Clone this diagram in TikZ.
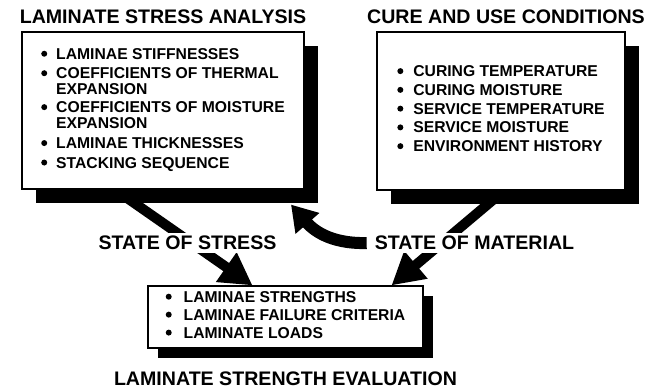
\documentclass[tikz,border=0pt]{standalone}
\usepackage{fontspec}
\setmainfont{Liberation Sans}
\usetikzlibrary{arrows.meta, positioning, shadows}

\pgfdeclarelayer{background}
\pgfsetlayers{background,main}

\newcommand{\bodyfont}{\fontsize{15.7}{15}\selectfont\bfseries}
\newcommand{\headfont}{\fontsize{19.6}{20}\selectfont\bfseries}
\newcommand{\bul}{\tikz[baseline=-5.6pt]\fill[black] (0,0) circle (3pt);}

\tikzset{
  listbox/.style={draw, line width=1.2pt, fill=white, inner sep=0pt, font=\bodyfont,
    drop shadow={shadow xshift=#1, shadow yshift=-#1, fill=black, opacity=1}},
  listbox/.default=14pt,
  heading/.style={inner sep=0pt, font=\headfont},
  flowlabel/.style={fill=white, inner xsep=8pt, inner ysep=3pt, font=\headfont},
  bigarrow/.style={line width=10pt, -{Triangle[length=32pt, width=34pt]}},
  bentarrow/.style={line width=12pt, -{Triangle[length=25pt, width=30pt]}}
}

\begin{document}
\begin{tikzpicture}[x=1pt, y=-1pt]
  \useasboundingbox (0,0) rectangle (655,389);

  % input boxes
  \node (stressbox) [listbox, minimum width=282pt, minimum height=157pt] at (163,110.5) {%
    \begin{tabular}{@{}c@{\hspace{9pt}}l@{}}
      \bul & LAMINAE STIFFNESSES\\[4pt]
      \bul & COEFFICIENTS OF THERMAL\\
           & EXPANSION\\[3pt]
      \bul & COEFFICIENTS OF MOISTURE\\
           & EXPANSION\\[5pt]
      \bul & LAMINAE THICKNESSES\\[4pt]
      \bul & STACKING SEQUENCE
    \end{tabular}};
  \node (materialbox) [listbox, minimum width=248pt, minimum height=158pt] at (501,111) {%
    \begin{tabular}{@{}c@{\hspace{10pt}}l@{}}
      \bul & CURING TEMPERATURE\\[3.3pt]
      \bul & CURING MOISTURE\\[3.3pt]
      \bul & SERVICE TEMPERATURE\\[3.3pt]
      \bul & SERVICE MOISTURE\\[3.3pt]
      \bul & ENVIRONMENT HISTORY
    \end{tabular}};
  \node [heading, above=8pt of stressbox] (stresstitle) {LAMINATE STRESS ANALYSIS};
  \node [heading, above=8pt of materialbox, xshift=5pt] (materialtitle) {CURE AND USE CONDITIONS};

  % result box
  \node (evalbox) [listbox=10pt, minimum width=275pt, minimum height=62pt] at (285.5,317) {%
    \begin{tabular}{@{}c@{\hspace{12pt}}l@{}}
      \bul & LAMINAE STRENGTHS\\[2.5pt]
      \bul & LAMINAE FAILURE CRITERIA\\[2.5pt]
      \bul & LAMINATE LOADS
    \end{tabular}};
  \node [heading, below=23pt of evalbox] (evaltitle) {LAMINATE STRENGTH EVALUATION};

  % flow labels
  \node (stresslabel) [flowlabel] at (187.5,243) {STATE OF STRESS};
  \node (materiallabel) [flowlabel] at (474.5,243) {STATE OF MATERIAL};

  % thick arrows behind boxes and labels
  \begin{pgfonlayer}{background}
    \draw [bigarrow] ([xshift=-48pt]stressbox.south) -- ([xshift=-33pt]evalbox.north);
    \draw [bigarrow] ([xshift=3pt]materialbox.south) -- ([xshift=106pt]evalbox.north);
    \draw [bentarrow] (materiallabel.west) .. controls +(-38,1) and +(21,24) .. ([xshift=128pt, yshift=-15pt]stressbox.south);
  \end{pgfonlayer}
\end{tikzpicture}
\end{document}
